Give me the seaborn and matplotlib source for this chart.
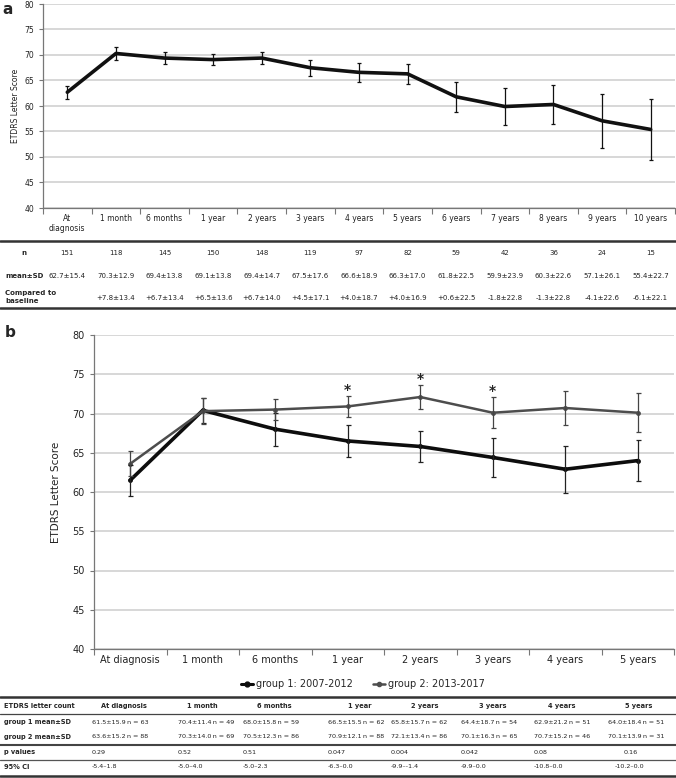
import numpy as np
import pandas as pd
import matplotlib.pyplot as plt
import matplotlib.transforms as mtransforms
from matplotlib.lines import Line2D
import seaborn as sns

# ---- panel a data ----
visits_a = ["At\ndiagnosis", "1 month", "6 months", "1 year", "2 years", "3 years", "4 years",
            "5 years", "6 years", "7 years", "8 years", "9 years", "10 years"]
mean_a = [62.7, 70.3, 69.4, 69.1, 69.4, 67.5, 66.6, 66.3, 61.8, 59.9, 60.3, 57.1, 55.4]
err_a = [1.25, 1.2, 1.15, 1.15, 1.2, 1.6, 1.9, 1.9, 2.9, 3.7, 3.8, 5.3, 5.9]
n_a = ["151", "118", "145", "150", "148", "119", "97", "82", "59", "42", "36", "24", "15"]
meansd_a = ["62.7±15.4", "70.3±12.9", "69.4±13.8", "69.1±13.8", "69.4±14.7", "67.5±17.6", "66.6±18.9",
            "66.3±17.0", "61.8±22.5", "59.9±23.9", "60.3±22.6", "57.1±26.1", "55.4±22.7"]
change_a = ["", "+7.8±13.4", "+6.7±13.4", "+6.5±13.6", "+6.7±14.0", "+4.5±17.1", "+4.0±18.7",
            "+4.0±16.9", "+0.6±22.5", "-1.8±22.8", "-1.3±22.8", "-4.1±22.6", "-6.1±22.1"]

# ---- panel b data ----
visits_b = ["At diagnosis", "1 month", "6 months", "1 year", "2 years", "3 years", "4 years", "5 years"]
mean_g1 = [61.5, 70.4, 68.0, 66.5, 65.8, 64.4, 62.9, 64.0]
err_g1 = [2.0, 1.6, 2.1, 2.0, 2.0, 2.5, 3.0, 2.6]
mean_g2 = [63.6, 70.3, 70.5, 70.9, 72.1, 70.1, 70.7, 70.1]
err_g2 = [1.6, 1.7, 1.3, 1.3, 1.5, 2.0, 2.2, 2.5]
signif_b = ["", "", "", "*", "*", "*", "", ""]
g1_text = ["61.5±15.9\u2009n = 63", "70.4±11.4\u2009n = 49", "68.0±15.8\u2009n = 59", "66.5±15.5\u2009n = 62",
           "65.8±15.7\u2009n = 62", "64.4±18.7\u2009n = 54", "62.9±21.2\u2009n = 51", "64.0±18.4\u2009n = 51"]
g2_text = ["63.6±15.2\u2009n = 88", "70.3±14.0\u2009n = 69", "70.5±12.3\u2009n = 86", "70.9±12.1\u2009n = 88",
           "72.1±13.4\u2009n = 86", "70.1±16.3\u2009n = 65", "70.7±15.2\u2009n = 46", "70.1±13.9\u2009n = 31"]
p_text = ["0.29", "0.52", "0.51", "0.047", "0.004", "0.042", "0.08", "0.16"]
ci_text = ["-5.4–1.8", "-5.0–4.0", "-5.0–2.3", "-6.3–0.0", "-9.9–-1.4", "-9.9–0.0", "-10.8–0.0", "-10.2–0.0"]
group_names = ["group 1: 2007-2012", "group 2: 2013-2017"]

sns.set_theme(style="white")
plt.rcParams["font.family"] = ["DejaVu Sans"]

W, H = 676, 778
fig = plt.figure(figsize=(W / 100, H / 100), dpi=100)


def box(l, t, r, b):
    return [l / W, 1 - b / H, (r - l) / W, (b - t) / H]


def fy(px):
    return 1 - px / H


def rule(y, lw, c="#333"):
    fig.add_artist(Line2D([0, 1], [fy(y), fy(y)], color=c, lw=lw))


def style_axis(ax, n, labels, fs):
    ax.set_xlim(-0.5, n - 0.5)
    ax.set_ylim(40, 80)
    ax.set_yticks(range(40, 81, 5))
    ax.set_xticks(range(n))
    ax.set_xticklabels(labels, fontsize=fs, color="#222")
    ax.set_xticks(np.arange(-0.5, n, 1.0), minor=True)
    ax.tick_params(axis="x", which="major", length=0, pad=4)
    ax.tick_params(axis="x", which="minor", length=4, color="#777", width=0.8, direction="out", bottom=True)
    ax.tick_params(axis="y", length=3, color="#777", width=0.8, labelsize=fs, labelcolor="#222", left=True)
    ax.yaxis.grid(True, color="#d4d4d4", lw=1.3)
    ax.set_axisbelow(True)
    for s in ["top", "right"]:
        ax.spines[s].set_visible(False)
    for s in ["left", "bottom"]:
        ax.spines[s].set_color("#777")
        ax.spines[s].set_linewidth(0.9)


# ================= panel a =================
axa = fig.add_axes(box(43, 4, 675, 208))
df_a = pd.DataFrame({"visit": np.arange(len(mean_a)), "score": mean_a})
sns.lineplot(data=df_a, x="visit", y="score", ax=axa, color="#111111", lw=2.6)
axa.errorbar(df_a["visit"], df_a["score"], yerr=err_a, fmt="none", ecolor="#111111",
             elinewidth=0.9, capsize=1.6, capthick=0.9)
style_axis(axa, len(mean_a), visits_a, 5.5)
axa.set_xlabel("")
axa.set_ylabel("ETDRS Letter Score", fontsize=5.5, color="#222", labelpad=3)
fig.text(2 / W, fy(9), "a", fontsize=11, fontweight="bold", va="center")

# table a
trans_a = mtransforms.blended_transform_factory(axa.transData, fig.transFigure)
rule(241, 1.8)
rule(308, 1.8)
fig.text(24 / W, fy(253), "n", fontsize=5, fontweight="bold", ha="center", va="center")
fig.text(5 / W, fy(276), "mean±SD", fontsize=5, fontweight="bold", ha="left", va="center")
fig.text(5 / W, fy(297), "Compared to\nbaseline", fontsize=5, fontweight="bold", ha="left", va="center",
         linespacing=1.3)
for i in range(len(mean_a)):
    axa.text(i, fy(253), n_a[i], transform=trans_a, fontsize=5, ha="center", va="center", color="#222")
    axa.text(i, fy(276), meansd_a[i], transform=trans_a, fontsize=5, ha="center", va="center", color="#222")
    axa.text(i, fy(298), change_a[i], transform=trans_a, fontsize=5, ha="center", va="center", color="#222")

# ================= panel b =================
axb = fig.add_axes(box(94, 335, 674, 649))
df_b = pd.DataFrame({
    "visit": list(range(len(visits_b))) * 2,
    "score": mean_g1 + mean_g2,
    "group": [group_names[0]] * len(visits_b) + [group_names[1]] * len(visits_b),
})
sns.lineplot(data=df_b, x="visit", y="score", hue="group", ax=axb,
             palette={group_names[0]: "#0d0d0d", group_names[1]: "#4d4d4d"},
             size="group", sizes={group_names[0]: 2.6, group_names[1]: 1.8},
             marker="o", markersize=3.5, markeredgewidth=0, legend=False)
xb = np.arange(len(visits_b))
axb.errorbar(xb, mean_g1, yerr=err_g1, fmt="none", ecolor="#222", elinewidth=0.9, capsize=1.8, capthick=0.9)
axb.errorbar(xb, mean_g2, yerr=err_g2, fmt="none", ecolor="#444", elinewidth=0.9, capsize=1.8, capthick=0.9)
for i, s in enumerate(signif_b):
    if s:
        axb.text(i, mean_g2[i] + err_g2[i] + 0.75, s, fontsize=10, fontweight="bold", ha="center", va="center")
style_axis(axb, len(visits_b), visits_b, 7)
axb.set_xlabel("")
axb.set_ylabel("ETDRS Letter Score", fontsize=7.5, color="#222", labelpad=8)
fig.text(5 / W, fy(333), "b", fontsize=11, fontweight="bold", va="center")

handles = [Line2D([], [], color="#0d0d0d", lw=2.2, marker="o", ms=3.5),
           Line2D([], [], color="#4d4d4d", lw=1.8, marker="o", ms=3)]
fig.legend(handles, group_names, loc="center", bbox_to_anchor=(363 / W, fy(684)), ncol=2, frameon=False,
           fontsize=7, handlelength=1.3, handletextpad=0.3, columnspacing=2.0)

# table b
col_head_x = [124, 202, 274, 360, 425, 493, 562, 639]
col_val_x = [92, 178, 243, 328, 391, 461, 534, 608]
p_val_x = [92, 178, 243, 328, 391, 461, 534, 624]
ci_val_x = [92, 178, 243, 328, 391, 461, 534, 615]
row_y = [706, 722, 737, 752, 767]
rule(697, 1.8)
rule(714, 0.9, "#444")
rule(745, 1.5, "#444")
rule(760, 0.9, "#555")
rule(776, 1.8)
row_names = ["ETDRS letter count", "group 1 mean±SD", "group 2 mean±SD", "p values", "95% CI"]
for y, name in zip(row_y, row_names):
    fig.text(4 / W, fy(y), name, fontsize=4.8, fontweight="bold", ha="left", va="center")
for j in range(len(visits_b)):
    fig.text(col_head_x[j] / W, fy(row_y[0]), visits_b[j], fontsize=4.8, fontweight="bold",
             ha="center", va="center")
    for y, xs, vals in zip(row_y[1:], [col_val_x, col_val_x, p_val_x, ci_val_x],
                           [g1_text, g2_text, p_text, ci_text]):
        fig.text(xs[j] / W, fy(y), vals[j], fontsize=4.6, ha="left", va="center", color="#222")

fig.savefig("out.png", dpi=100)
